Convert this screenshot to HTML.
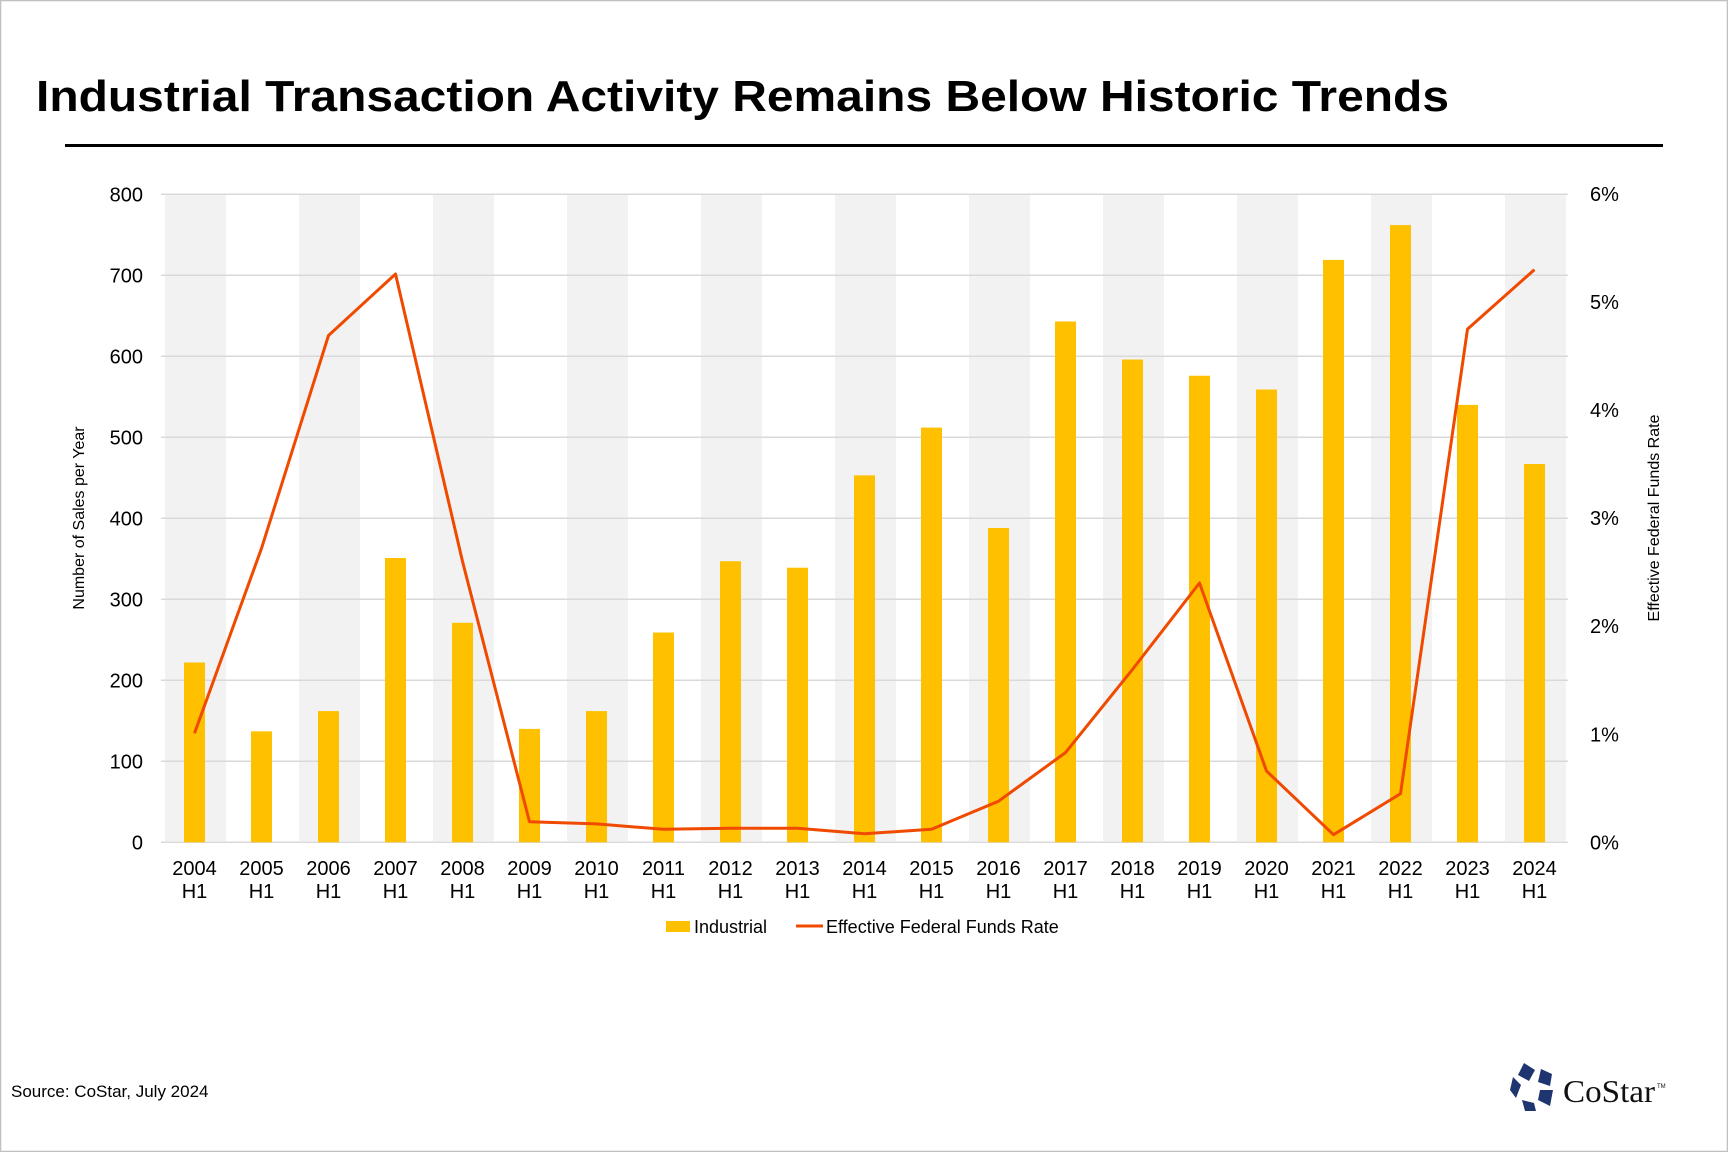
<!DOCTYPE html>
<html><head><meta charset="utf-8"><style>
html,body{margin:0;padding:0;background:#fff}
svg{display:block}
text{font-family:"Liberation Sans",Arial,sans-serif}
</style></head><body>
<svg width="1728" height="1152" viewBox="0 0 1728 1152" xmlns="http://www.w3.org/2000/svg">
<rect x="0.5" y="0.5" width="1727" height="1151" fill="#fff" stroke="#c0c0c0" stroke-width="1.5"/>
<text x="36" y="111" font-size="44" font-weight="bold" fill="#000" textLength="1413" lengthAdjust="spacingAndGlyphs">Industrial Transaction Activity Remains Below Historic Trends</text>
<rect x="65" y="144" width="1598" height="3" fill="#000"/>
<g id="bands" fill="#f2f2f2"></g>
<g id="grid" stroke="#d9d9d9" stroke-width="1.5"></g>
<g id="bars" fill="#FFC000"></g>
<polyline id="line" fill="none" stroke="#F04A00" stroke-width="3" stroke-linejoin="round"/>
<g id="ylab" font-size="20" fill="#000"></g>
<g id="xlab" font-size="20" fill="#000" text-anchor="middle"></g>
<text transform="translate(84,518) rotate(-90)" font-size="16" text-anchor="middle">Number of Sales per Year</text>
<text transform="translate(1659,518) rotate(-90)" font-size="16" text-anchor="middle">Effective Federal Funds Rate</text>
<rect x="666" y="921" width="24" height="11" fill="#FFC000"/>
<text x="694" y="933" font-size="18">Industrial</text>
<line x1="796" y1="926" x2="823" y2="926" stroke="#F04A00" stroke-width="3"/>
<text x="826" y="933" font-size="18">Effective Federal Funds Rate</text>
<text x="11" y="1097" font-size="17">Source: CoStar, July 2024</text>
<g fill="#1f3570">
<polygon points="1524,1063 1535,1070 1529,1081 1518,1075"/>
<polygon points="1541,1069 1552,1074 1550,1086 1538,1082"/>
<polygon points="1513,1077 1521,1085 1516,1098 1510,1090"/>
<polygon points="1540,1090 1553,1090 1550,1106 1538,1100"/>
<polygon points="1522,1100 1534,1103 1536,1111 1525,1111"/>
</g>
<text x="1563" y="1102" style="font-family:'Liberation Serif',serif" font-size="32" fill="#111" textLength="92" lengthAdjust="spacingAndGlyphs">CoStar</text>
<text x="1657" y="1088" font-size="6" fill="#111">TM</text>
<script>
const L=161,W=67,Y0=842.3,PX=0.81,PCT=(842.3-194)/6;
const vals=[222,137,162,351,271,140,162,259,347,339,453,512,388,643,596,576,559,719,762,540,467];
const rate=[1.01,2.72,4.69,5.26,2.6,0.19,0.17,0.12,0.13,0.13,0.08,0.12,0.38,0.83,1.6,2.4,0.66,0.07,0.45,4.75,5.3];
const ns="http://www.w3.org/2000/svg";
function el(p,t,a,txt){const e=document.createElementNS(ns,t);for(const k in a)e.setAttribute(k,a[k]);if(txt)e.textContent=txt;document.getElementById(p).appendChild(e);}
for(let i=0;i<21;i+=2)el("bands","rect",{x:L+i*W+4,y:195,width:W-6,height:646});
for(let g=0;g<=8;g++){const y=Y0-g*100*PX;el("grid","line",{x1:L,x2:L+21*W,y1:y,y2:y});
el("ylab","text",{x:143,y:y+7,"text-anchor":"end"},String(g*100));}
for(let p=0;p<=6;p++){el("ylab","text",{x:1590,y:Y0-p*PCT+7},p+"%");}
let pts=[];
vals.forEach((v,i)=>{const cx=L+i*W+W/2;el("bars","rect",{x:cx-10.5,y:Y0-v*PX,width:21,height:v*PX});
pts.push(cx+","+(Y0-rate[i]*PCT).toFixed(1));
el("xlab","text",{x:cx,y:875},String(2004+i));el("xlab","text",{x:cx,y:898},"H1");});
document.getElementById("line").setAttribute("points",pts.join(" "));
</script>
</svg>
</body></html>
